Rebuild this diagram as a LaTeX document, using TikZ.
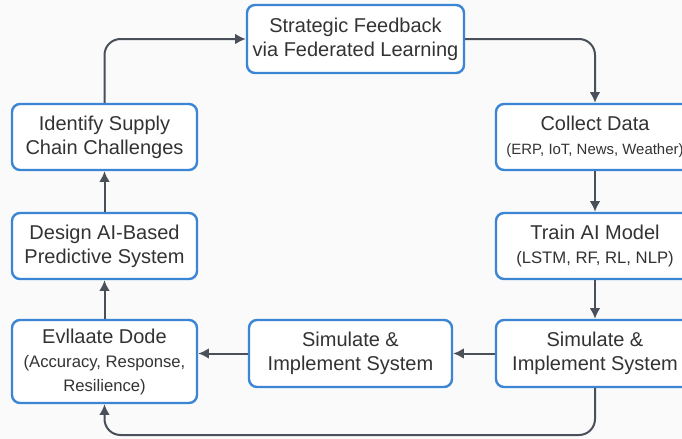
\documentclass[tikz,border=0pt]{standalone}
\usepackage{fontspec}
\setmainfont{Liberation Sans}
\usetikzlibrary{arrows.meta}
\definecolor{boxblue}{HTML}{3A86D4}
\definecolor{linegray}{HTML}{4A505A}
\definecolor{txtgray}{HTML}{333333}
\definecolor{bggray}{HTML}{FAFAFA}
\newcommand{\subtxt}{\fontsize{12.5}{18}\selectfont}

\begin{document}
\begin{tikzpicture}[x=0.75pt, y=-0.75pt,
    stepbox/.style={draw=boxblue, line width=1.8pt, rounded corners=6pt, fill=white,
      text=txtgray, align=center, inner sep=0pt, font=\fontsize{15}{18}\selectfont},
    flow/.style={draw=linegray, line width=1.5pt, rounded corners=12pt,
      -{Latex[length=8pt, width=8pt]}}]
    \fill[bggray] (0, 0) rectangle (682, 439);
    \useasboundingbox (0, 0) rectangle (682, 439);

    % top
    \node[stepbox, minimum width=162.75pt, minimum height=51pt] (feedback) at (355.5, 39)
      {Strategic Feedback\\via Federated Learning};

    % left column
    \node[stepbox, minimum width=138.75pt, minimum height=49.5pt] (identify) at (104.5, 137)
      {Identify Supply\\Chain Challenges};
    \node[stepbox, minimum width=138.75pt, minimum height=49.5pt] (design) at (104.5, 246)
      {Design AI-Based\\Predictive System};
    \node[stepbox, minimum width=138.75pt, minimum height=62.25pt] (evaluate) at (104.5, 361.5)
      {Evllaate Dode\\\subtxt(Accuracy, Response,\\\subtxt Resilience)};

    % right column
    \node[stepbox, minimum width=148.5pt, minimum height=49.5pt] (collect) at (595, 137)
      {Collect Data\\\fontsize{11.2}{18}\selectfont(ERP, IoT, News, Weather)};
    \node[stepbox, minimum width=148.5pt, minimum height=49.5pt] (train) at (595, 246)
      {Train AI Model\\\subtxt(LSTM, RF, RL, NLP)};
    \node[stepbox, minimum width=148.5pt, minimum height=50.25pt] (simright) at (595, 353.5)
      {Simulate \&\\Implement System};

    % bottom middle
    \node[stepbox, minimum width=152.25pt, minimum height=50.25pt] (simmid) at (350.5, 353.5)
      {Simulate \&\\Implement System};

    \coordinate (loop) at (595, 435);

    \draw[flow] (feedback.east) -| (collect.north);
    \draw[flow] (collect.south) -- (train.north);
    \draw[flow] (train.south) -- (simright.north);
    \draw[flow] (simright.west) -- (simmid.east);
    \draw[flow] (simmid.west) -- (simmid.west -| evaluate.east);
    \draw[flow] (simright.south) -- (loop) -| (evaluate.south);
    \draw[flow] (evaluate.north) -- (design.south);
    \draw[flow] (design.north) -- (identify.south);
    \draw[flow] (identify.north) |- (feedback.west);
\end{tikzpicture}
\end{document}
